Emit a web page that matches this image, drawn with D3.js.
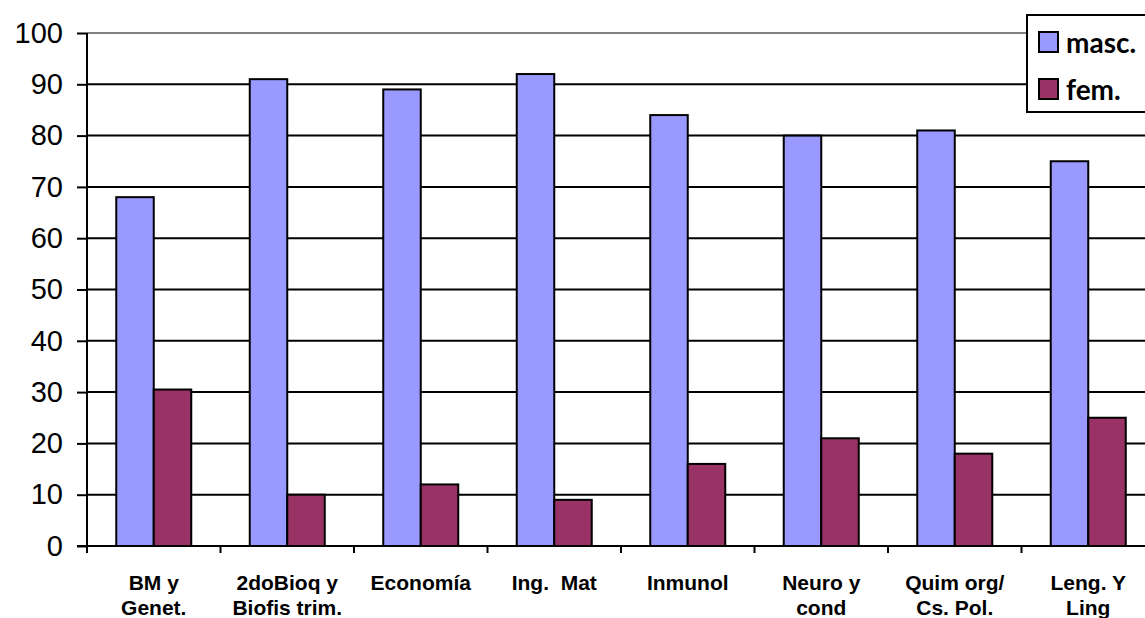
<!DOCTYPE html>
<html>
<head>
<meta charset="utf-8">
<script src="https://cdn.jsdelivr.net/npm/d3@7"></script>
<style>
  html, body { margin: 0; padding: 0; background: #fff; }
  svg { display: block; }
</style>
</head>
<body>
<svg id="chart" width="1145" height="618"></svg>
<script>
// Categories (two-line labels) and series values
const categories = [
  ["BM y", "Genet."],
  ["2doBioq y", "Biofis trim."],
  ["Economía", ""],
  ["Ing.  Mat", ""],
  ["Inmunol", ""],
  ["Neuro y", "cond"],
  ["Quim org/", "Cs. Pol."],
  ["Leng. Y", "Ling"]
];
const masc = [68, 91, 89, 92, 84, 80, 81, 75];
const fem = [30.5, 10, 12, 9, 16, 21, 18, 25];
const seriesNames = ["masc.", "fem."];
const yTicks = [0, 10, 20, 30, 40, 50, 60, 70, 80, 90, 100];

const colors = ["#9999FF", "#993366"];

const svg = d3.select("#chart");
const plotLeft = 87, plotTop = 33, plotBottom = 546;
const plotW = 1068;

const x = d3.scaleBand().domain(d3.range(categories.length)).range([plotLeft, plotLeft + plotW]);
const inner = d3.scaleBand().domain([0, 1]).range([0, x.bandwidth()]).paddingInner(0).paddingOuter(0.78);
const y = d3.scaleLinear().domain([0, 100]).range([plotBottom, plotTop]);

// Horizontal gridlines
svg.append("g").selectAll("line").data(yTicks.filter(d => d > 0)).join("line")
  .attr("x1", plotLeft).attr("x2", plotLeft + plotW)
  .attr("y1", d => y(d)).attr("y2", d => y(d))
  .attr("stroke", d => d === 100 ? "#808080" : "#000")
  .attr("stroke-width", 2);

// Bars
const data = categories.map((c, i) => ({ i, vals: [masc[i], fem[i]] }));
const groups = svg.append("g").selectAll("g").data(data).join("g")
  .attr("transform", d => `translate(${x(d.i)},0)`);
groups.selectAll("rect").data(d => d.vals.map((v, k) => ({ v, k }))).join("rect")
  .attr("x", d => inner(d.k))
  .attr("width", inner.bandwidth())
  .attr("y", d => y(d.v))
  .attr("height", d => y(0) - y(d.v))
  .attr("fill", d => colors[d.k])
  .attr("stroke", "#000")
  .attr("stroke-width", 2);

// Y axis
const yAxis = d3.axisLeft(y).tickValues(yTicks).tickSize(10).tickPadding(14);
const gy = svg.append("g").attr("transform", `translate(${plotLeft},0)`).call(yAxis);
gy.select(".domain").attr("stroke", "#000").attr("stroke-width", 2).attr("d", `M0,${y(100)}V${y(0)}`);
gy.selectAll(".tick line").attr("stroke", "#000").attr("stroke-width", 2);
gy.selectAll(".tick text")
  .attr("font-family", "'Liberation Sans', Arial, sans-serif")
  .attr("font-size", 29).attr("fill", "#000");

// X axis baseline and category ticks
const gx = svg.append("g");
gx.append("line").attr("x1", plotLeft - 10).attr("x2", plotLeft + plotW)
  .attr("y1", y(0)).attr("y2", y(0)).attr("stroke", "#000").attr("stroke-width", 2);
gx.selectAll("line.ct").data(d3.range(categories.length + 1)).join("line")
  .attr("class", "ct")
  .attr("x1", d => plotLeft + d * x.step()).attr("x2", d => plotLeft + d * x.step())
  .attr("y1", y(0)).attr("y2", y(0) + 7)
  .attr("stroke", "#000").attr("stroke-width", 2);

// Category labels
const lab = gx.selectAll("text").data(categories).join("text")
  .attr("text-anchor", "middle")
  .attr("font-family", "'Liberation Sans', Arial, sans-serif")
  .attr("font-weight", "bold")
  .attr("font-size", 21)
  .attr("fill", "#000")
  .style("white-space", "pre");
lab.each(function (d, i) {
  const t = d3.select(this);
  const cx = x(i) + x.bandwidth() / 2;
  t.append("tspan").attr("x", cx).attr("y", 590).text(d[0]);
  if (d[1]) t.append("tspan").attr("x", cx).attr("y", 615).text(d[1]);
});

// Legend
const lg = svg.append("g");
lg.append("rect").attr("x", 1027).attr("y", 15).attr("width", 140).attr("height", 97)
  .attr("fill", "#fff").attr("stroke", "#000").attr("stroke-width", 2);
seriesNames.forEach((name, k) => {
  const yy = 32 + k * 47;
  lg.append("rect").attr("x", 1039).attr("y", yy).attr("width", 19).attr("height", 20)
    .attr("fill", colors[k]).attr("stroke", "#000").attr("stroke-width", 2);
  lg.append("text").attr("x", 1066).attr("y", yy + 21)
    .attr("font-family", "Lato, 'Open Sans', sans-serif")
    .attr("font-weight", "bold").attr("font-size", 28).attr("fill", "#000")
    .text(name);
});
</script>
</body>
</html>
